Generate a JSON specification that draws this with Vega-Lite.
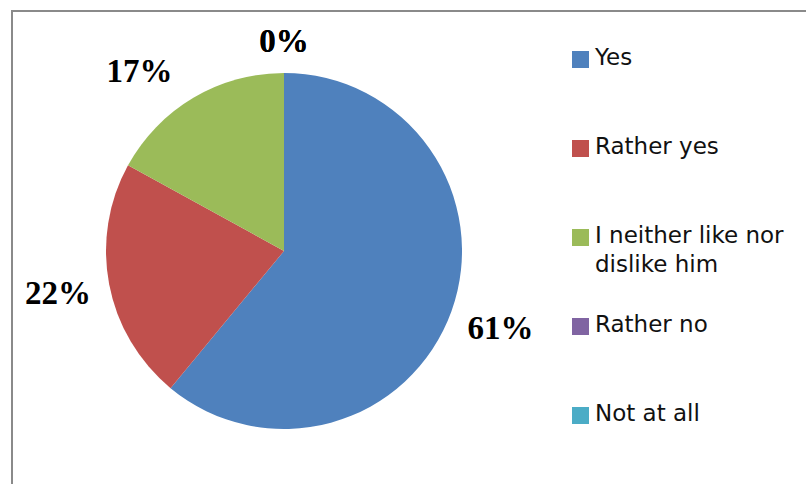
{
  "$schema": "https://vega.github.io/schema/vega-lite/v6.json",
  "width": 800,
  "height": 480,
  "autosize": {"type": "none"},
  "padding": {"left": 12, "top": 11, "right": 0, "bottom": 0},
  "background": "white",
  "view": {"stroke": "#8a8a8a", "strokeWidth": 2, "fill": "white"},
  "data": {
    "values": [
      {"answer": "Yes", "share": 0.61, "rank": 1},
      {"answer": "Rather yes", "share": 0.22, "rank": 2},
      {"answer": "I neither like nor dislike him", "share": 0.17, "rank": 3},
      {"answer": "Rather no", "share": 0.0, "rank": 4},
      {"answer": "Not at all", "share": 0.0, "rank": 5}
    ]
  },
  "encoding": {
    "theta": {"field": "share", "type": "quantitative", "stack": true},
    "order": {"field": "rank", "type": "quantitative"}
  },
  "layer": [
    {
      "mark": {"type": "arc", "outerRadius": 178, "xOffset": -128},
      "encoding": {
        "color": {
          "field": "answer",
          "type": "nominal",
          "sort": ["Yes", "Rather yes", "I neither like nor dislike him", "Rather no", "Not at all"],
          "scale": {
            "domain": ["Yes", "Rather yes", "I neither like nor dislike him", "Rather no", "Not at all"],
            "range": ["#4F81BD", "#C0504D", "#9BBB59", "#8064A2", "#4BACC6"]
          },
          "legend": {
            "orient": "none",
            "legendX": 557,
            "legendY": 37,
            "title": null,
            "symbolType": "square",
            "symbolSize": 289,
            "symbolStrokeWidth": 0,
            "labelFont": "DejaVu Sans",
            "labelFontSize": 23,
            "labelColor": "#111111",
            "labelOffset": 3,
            "labelLimit": 400,
            "rowPadding": 36,
            "labelBaseline": "top",
            "labelExpr": "datum.label == 'I neither like nor dislike him' ? ['I neither like nor', 'dislike him'] : [datum.label, '']",
            "encode": {"labels": {"update": {"lineHeight": {"value": 29}, "dy": {"value": -13}}}}
          }
        }
      }
    },
    {
      "mark": {
        "type": "text",
        "xOffset": -128,
        "radius": 230,
        "font": "Liberation Serif",
        "fontSize": 33,
        "fontWeight": "bold"
      },
      "encoding": {
        "text": {"condition": {"test": "datum.rank > 2", "value": ""}, "field": "share", "type": "quantitative", "format": ".0%"},
        "color": {"value": "#000000"}
      }
    },
    {
      "mark": {
        "type": "text",
        "xOffset": -128,
        "radius": 230,
        "thetaOffset": -0.145,
        "font": "Liberation Serif",
        "fontSize": 33,
        "fontWeight": "bold"
      },
      "encoding": {
        "text": {"condition": {"test": "datum.rank != 3", "value": ""}, "field": "share", "type": "quantitative", "format": ".0%"},
        "color": {"value": "#000000"}
      }
    },
    {
      "mark": {
        "type": "text",
        "xOffset": -128,
        "radius": 209,
        "font": "Liberation Serif",
        "fontSize": 33,
        "fontWeight": "bold"
      },
      "encoding": {
        "text": {"condition": {"test": "datum.rank < 4", "value": ""}, "field": "share", "type": "quantitative", "format": ".0%"},
        "color": {"value": "#000000"}
      }
    }
  ]
}
